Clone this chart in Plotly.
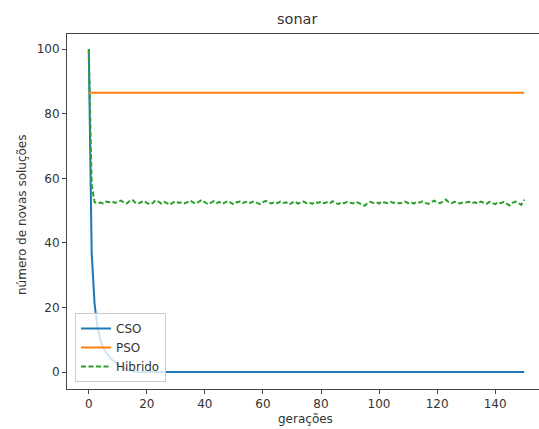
import plotly.graph_objects as go

generations = list(range(151))

cso = [100, 37, 21, 14, 10, 7.5, 6, 4.8, 3.8, 3, 2.3, 1.7, 1.2, 0.8, 0.5, 0.3, 0.1] + [0] * 134

pso = [86.5] * 151

hibrido = [
    100, 58, 52.6, 52.3, 52.5, 52.2, 52.8, 52.6, 52.9, 52.4,
    52.7, 53.1, 52.6, 52.2, 52.9, 53.4, 52.5, 52.1, 52.6, 53.0,
    52.4, 51.9, 52.3, 53.2, 52.8, 52.2, 52.7, 52.3, 51.8, 52.5,
    52.9, 52.4, 52.6, 52.2, 52.7, 53.1, 52.5, 52.2, 52.8, 53.3,
    52.6, 52.0, 52.4, 52.9, 52.3, 52.7, 52.1, 52.5, 53.0, 52.4,
    51.9, 52.6, 52.8, 52.3, 52.7, 52.2, 52.5, 52.9, 52.4, 52.0,
    52.6, 53.0, 52.5, 52.2, 52.7, 52.3, 52.8, 52.4, 52.6, 51.9,
    52.4, 52.9, 52.2, 52.6, 52.8, 52.3, 52.5, 52.1, 52.7, 52.4,
    52.8, 52.3, 52.6, 52.2, 52.9, 52.4, 52.0, 52.6, 52.3, 52.7,
    52.5, 52.2, 52.8, 52.4, 52.1, 51.5, 52.3, 52.7, 52.4, 52.6,
    52.2, 52.8, 52.5, 52.3, 52.7, 52.4, 52.6, 52.2, 52.5, 52.8,
    52.3, 52.6, 52.2, 52.7, 52.5, 52.9, 52.4, 52.1, 52.6, 53.1,
    52.5, 52.3, 52.8, 53.4, 52.6, 52.3, 52.7, 52.4, 52.2, 52.6,
    52.5, 52.7, 52.3, 52.6, 52.2, 52.8, 52.5, 52.1, 52.7, 52.4,
    52.0, 52.6, 52.3, 52.7, 52.2, 51.6, 52.4, 52.8, 52.3, 51.8,
    53.4,
]

x_ticks = [0, 20, 40, 60, 80, 100, 120, 140]
y_ticks = [0, 20, 40, 60, 80, 100]

FONT = "DejaVu Sans"
W, H = 539, 429
ML, MR, MT, MB = 67, 0, 34, 40
PW, PH = W - ML - MR, H - MT - MB

def px_to_paper_x(px):
    return (px - ML) / PW

def px_to_paper_y(py):
    return (H - MB - py) / PH

fig = go.Figure()
fig.add_trace(go.Scatter(x=generations, y=cso, mode="lines", name="CSO",
                         line=dict(color="#1f77b4", width=2)))
fig.add_trace(go.Scatter(x=generations, y=pso, mode="lines", name="PSO",
                         line=dict(color="#ff7f0e", width=2)))
fig.add_trace(go.Scatter(x=generations, y=hibrido, mode="lines", name="Hibrido",
                         line=dict(color="#2ca02c", width=2, dash="5px,2.5px")))

axis_common = dict(showgrid=False, zeroline=False, showline=True, linecolor="#444",
                   linewidth=1, ticks="outside", ticklen=4, tickcolor="#444",
                   tickfont=dict(family=FONT, size=12, color="#333"))

fig.update_layout(
    width=W, height=H,
    margin=dict(l=ML, r=MR, t=MT, b=MB),
    paper_bgcolor="white", plot_bgcolor="white",
    font=dict(family=FONT, size=12, color="#333"),
    xaxis=dict(range=[-7.5, 155.1], tickvals=x_ticks, mirror=True, **axis_common),
    yaxis=dict(range=[-5.25, 104.7], tickvals=y_ticks, mirror=False, **axis_common),
    legend=dict(x=px_to_paper_x(75), y=px_to_paper_y(382), xanchor="left", yanchor="bottom",
                bgcolor="rgba(255,255,255,0.8)", bordercolor="#ccc", borderwidth=1,
                font=dict(family=FONT, size=12, color="#333")),
    showlegend=True,
    annotations=[
        dict(text="sonar", x=px_to_paper_x(297), y=px_to_paper_y(19), xref="paper", yref="paper",
             xanchor="center", yanchor="middle", showarrow=False,
             font=dict(family=FONT, size=14.5, color="#333")),
        dict(text="gerações", x=px_to_paper_x(305), y=px_to_paper_y(419), xref="paper", yref="paper",
             xanchor="center", yanchor="middle", showarrow=False,
             font=dict(family=FONT, size=12, color="#333")),
        dict(text="número de novas soluções", x=px_to_paper_x(22), y=px_to_paper_y(215),
             xref="paper", yref="paper", xanchor="center", yanchor="middle", textangle=-90,
             showarrow=False, font=dict(family=FONT, size=12, color="#333")),
    ],
)

fig.write_html("out.html")
